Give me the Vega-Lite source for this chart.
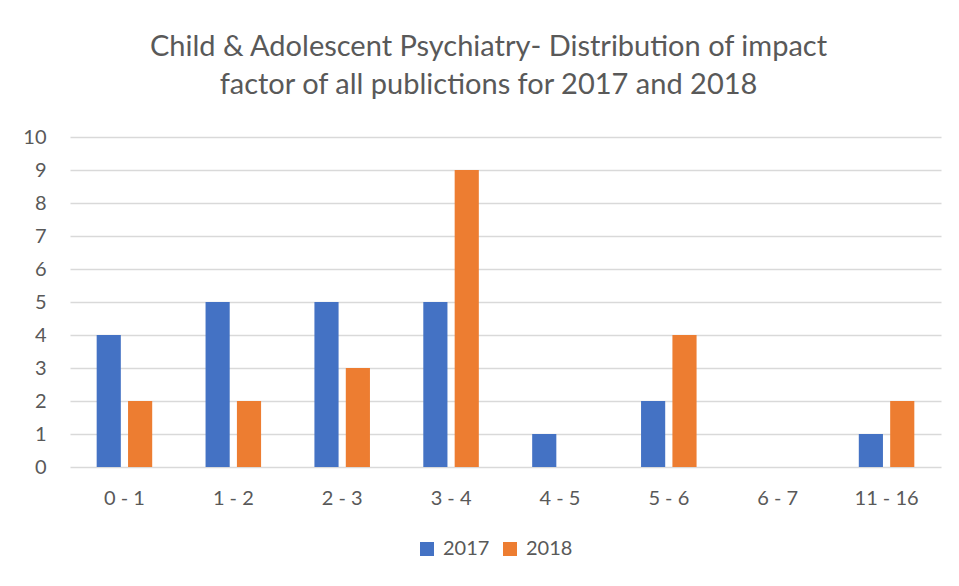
{
  "$schema": "https://vega.github.io/schema/vega-lite/v6.json",
  "width": 871,
  "height": 330,
  "autosize": {"type": "none"},
  "padding": {"left": 70, "top": 137, "right": 18, "bottom": 119},
  "background": "white",
  "title": {
    "text": ["Child & Adolescent Psychiatry- Distribution of impact", "factor of all publictions for 2017 and 2018"],
    "anchor": "middle",
    "dx": -17,
    "offset": 27,
    "fontSize": 29,
    "lineHeight": 38,
    "font": "Lato",
    "fontWeight": "normal",
    "color": "#595959"
  },
  "data": {
    "values": [
      {"range": "0 - 1", "year": "2017", "count": 4},
      {"range": "0 - 1", "year": "2018", "count": 2},
      {"range": "1 - 2", "year": "2017", "count": 5},
      {"range": "1 - 2", "year": "2018", "count": 2},
      {"range": "2 - 3", "year": "2017", "count": 5},
      {"range": "2 - 3", "year": "2018", "count": 3},
      {"range": "3 - 4", "year": "2017", "count": 5},
      {"range": "3 - 4", "year": "2018", "count": 9},
      {"range": "4 - 5", "year": "2017", "count": 1},
      {"range": "4 - 5", "year": "2018", "count": 0},
      {"range": "5 - 6", "year": "2017", "count": 2},
      {"range": "5 - 6", "year": "2018", "count": 4},
      {"range": "6 - 7", "year": "2017", "count": 0},
      {"range": "6 - 7", "year": "2018", "count": 0},
      {"range": "11 - 16", "year": "2017", "count": 1},
      {"range": "11 - 16", "year": "2018", "count": 2}
    ]
  },
  "mark": {"type": "bar"},
  "encoding": {
    "x": {
      "field": "range",
      "type": "nominal",
      "sort": null,
      "scale": {"paddingInner": 0.49, "paddingOuter": 0.245},
      "axis": {
        "title": null,
        "labelAngle": 0,
        "domain": false,
        "ticks": false,
        "labelPadding": 21,
        "labelFontSize": 20,
        "labelFont": "Lato",
        "labelColor": "#595959"
      }
    },
    "xOffset": {"field": "year", "type": "nominal", "scale": {"paddingInner": 0.23}},
    "y": {
      "field": "count",
      "type": "quantitative",
      "scale": {"domain": [0, 10], "nice": false},
      "axis": {
        "title": null,
        "values": [0, 1, 2, 3, 4, 5, 6, 7, 8, 9, 10],
        "domain": false,
        "ticks": false,
        "labelPadding": 24,
        "labelFontSize": 20,
        "labelFont": "Lato",
        "labelColor": "#595959",
        "gridColor": "#d9d9d9",
        "gridWidth": 1.5
      }
    },
    "color": {
      "field": "year",
      "type": "nominal",
      "scale": {"domain": ["2017", "2018"], "range": ["#4472C4", "#ED7D31"]},
      "legend": {
        "title": null,
        "orient": "none",
        "direction": "horizontal",
        "legendX": 347,
        "legendY": 402,
        "symbolType": "square",
        "symbolSize": 196,
        "symbolStrokeWidth": 0,
        "labelFontSize": 20,
        "labelFont": "Lato",
        "labelColor": "#595959",
        "columnPadding": 10,
        "labelOffset": 6
      }
    }
  },
  "config": {"view": {"stroke": null}}
}
